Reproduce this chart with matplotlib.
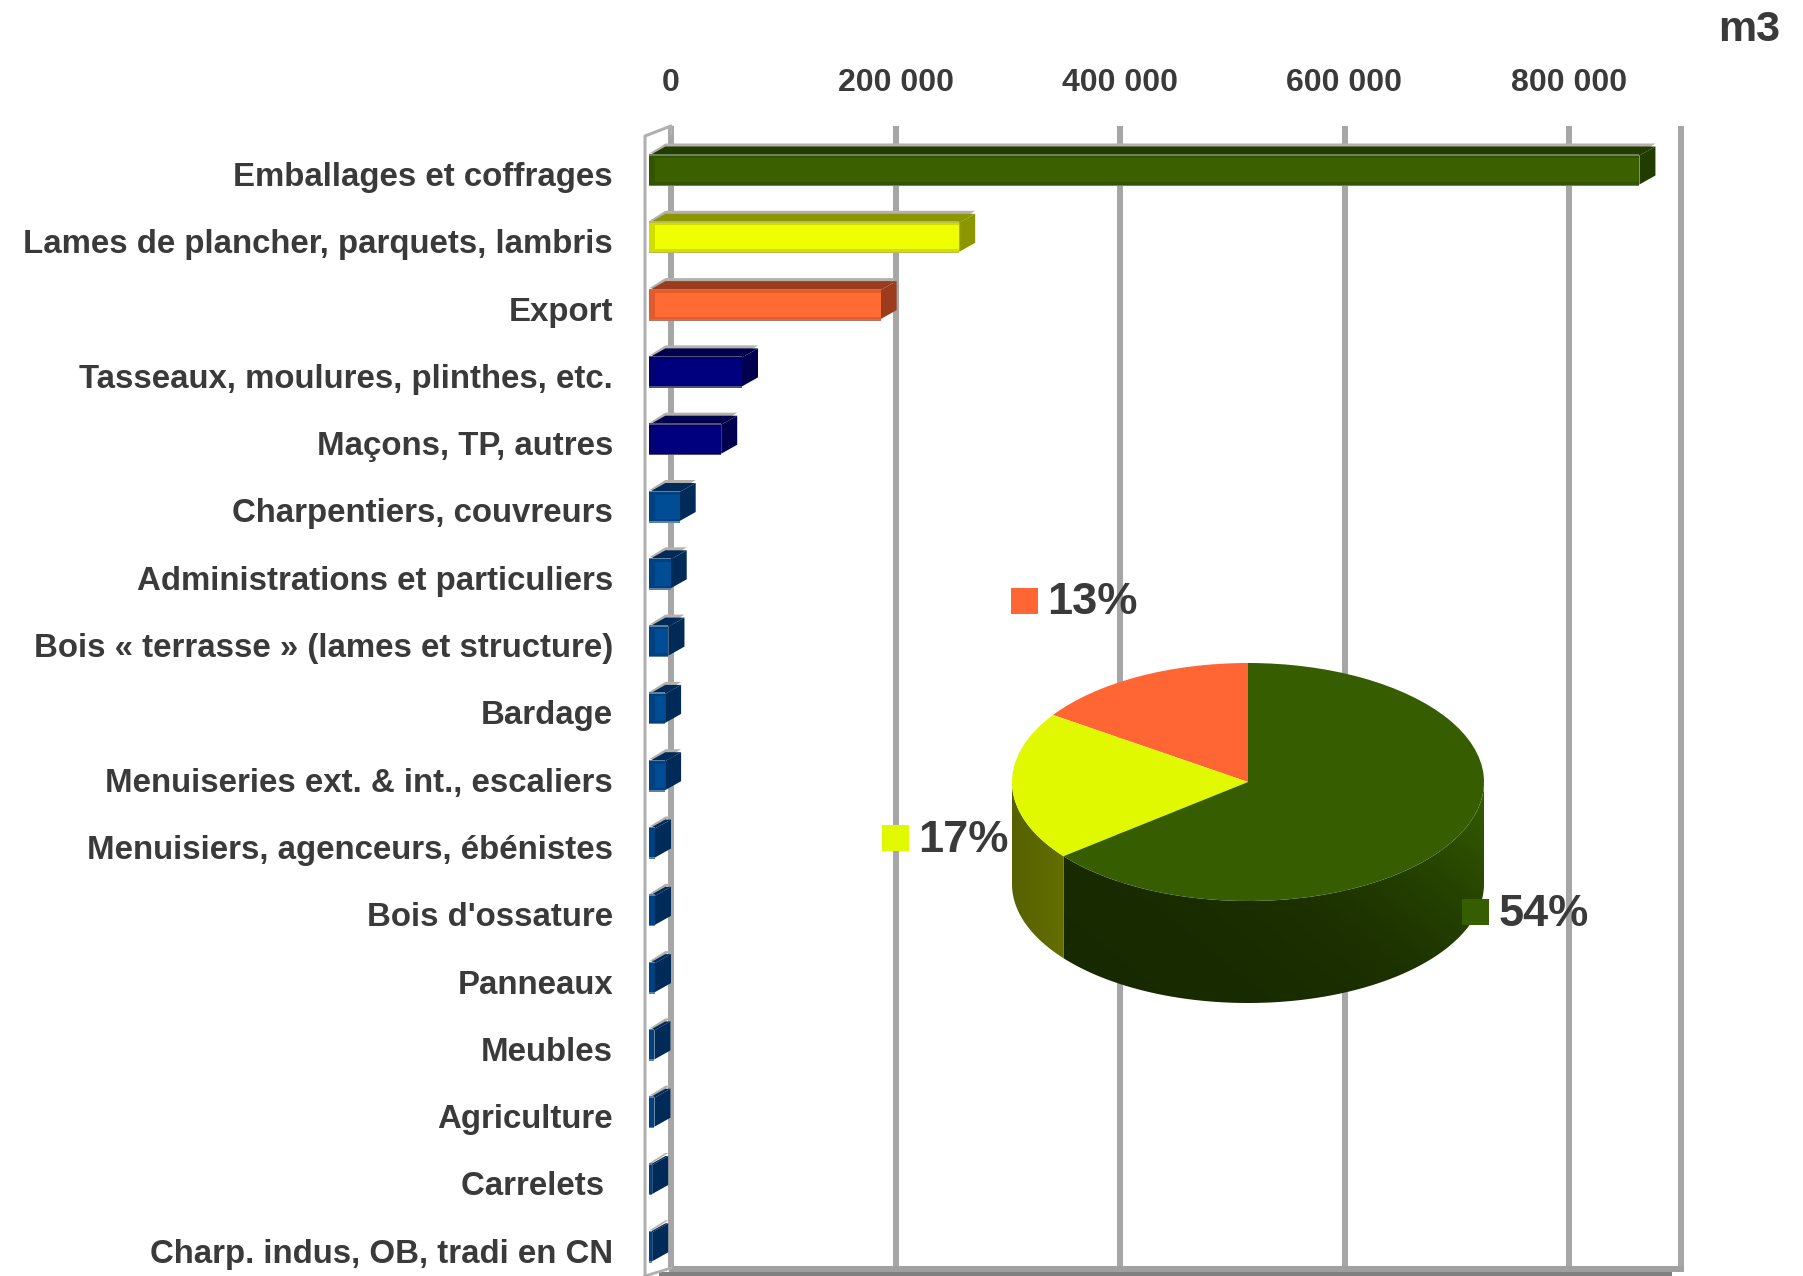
import matplotlib
matplotlib.use('Agg')
import matplotlib.pyplot as plt
from matplotlib.colors import LinearSegmentedColormap
from matplotlib.patches import Polygon, Rectangle
import numpy as np

plt.rcParams['font.family'] = ['Liberation Sans', 'DejaVu Sans']

categories = ['Emballages et coffrages', 'Lames de plancher, parquets, lambris', 'Export',
              'Tasseaux, moulures, plinthes, etc.', 'Maçons, TP, autres', 'Charpentiers, couvreurs',
              'Administrations et particuliers', 'Bois « terrasse » (lames et structure)', 'Bardage',
              'Menuiseries ext. & int., escaliers', 'Menuisiers, agenceurs, ébénistes', "Bois d'ossature",
              'Panneaux', 'Meubles', 'Agriculture', 'Carrelets ', 'Charp. indus, OB, tradi en CN']
volumes = [882000, 276000, 206000, 82500, 64000, 27000, 19000, 17000, 14000, 14000,
           5000, 5000, 5000, 4500, 4500, 2500, 2500]
ticks = [0, 200000, 400000, 600000, 800000]
tick_labels = ['0', '200 000', '400 000', '600 000', '800 000']

pie_labels = ['13%', '17%', '54%']
pie_values = [13, 17, 54]

# front, top/side, edge
GREEN = ('#3a6000', '#223c00', '#6f8060')
YELLOW = ('#f0ff00', '#8c9600', '#b8bc50')
ORANGE = ('#ff6b33', '#9c3c1e', '#b07868')
NAVY = ('#00007f', '#00004f', '#505080')
BLUE = ('#004c95', '#002a58', '#6080a0')
bar_styles = [GREEN, YELLOW, ORANGE, NAVY, NAVY] + [BLUE] * 12

W, H = 1803, 1276
PX_PER_UNIT = 224.5 / 200000
ZERO_X = 671
ROW0_Y, ROW_H = 174, 67.3
TEXT = '#3a3a3a'
GRID = '#a6a6a6'


def fig_rect(left, top, right, bottom):
    return [left / W, 1 - bottom / H, (right - left) / W, (bottom - top) / H]


fig = plt.figure(figsize=(W / 100, H / 100), dpi=100)
left_px, right_px, top_px, bottom_px = 640, 1700, 120, 1276
ax = fig.add_axes(fig_rect(left_px, top_px, right_px, bottom_px))
ax.set_xlim((left_px - ZERO_X) / PX_PER_UNIT, (right_px - ZERO_X) / PX_PER_UNIT)
ax.set_ylim((bottom_px - ROW0_Y) / ROW_H, (top_px - ROW0_Y) / ROW_H)
for s in ax.spines.values():
    s.set_visible(False)

rows = np.arange(len(categories))
ax.set_yticks(rows, categories)
ax.set_xticks(ticks, tick_labels)
ax.tick_params(axis='y', length=0, pad=19.4, labelsize=23.8, labelcolor=TEXT)
ax.tick_params(axis='x', length=0, pad=15.5, labelsize=23, labelcolor=TEXT,
               top=True, labeltop=True, bottom=False, labelbottom=False)
for lab in ax.get_yticklabels() + ax.get_xticklabels():
    lab.set_fontweight('bold')

px_x = 1 / PX_PER_UNIT
px_y = 1 / ROW_H
grid_top = (126 - ROW0_Y) * px_y
grid_bot = (1269 - ROW0_Y) * px_y
wall = 900000
ax.vlines(ticks + [wall], grid_top, grid_bot, color=GRID, lw=4.3, zorder=1)
# left side of the 3D box and the floor
ax.plot([-26 * px_x, -26 * px_x, 0, 0], [(1276 - ROW0_Y) * px_y, (136 - ROW0_Y) * px_y, grid_top, grid_top + 8 * px_y],
        color='#b0b0b0', lw=2.2, zorder=1)
ax.hlines((1269 - ROW0_Y) * px_y, -2 * px_x, wall + 3 * px_x, color='#a0a0a0', lw=4.3, zorder=1)
ax.hlines((1274 - ROW0_Y) * px_y, -12 * px_x, wall - 9 * px_x, color='#808080', lw=3, zorder=1)
ax.plot([-26 * px_x, 0], [(1276 - ROW0_Y) * px_y, (1268 - ROW0_Y) * px_y], color='#b0b0b0', lw=2, zorder=1)

# 3D bars: the front face is shifted down and left from the value position
depth_x, depth_y = 16 * px_x, 9 * px_y
axis_start = -5000
front_h = 29 * px_y
for r, v, st in zip(rows, volumes, bar_styles):
    x0 = axis_start - depth_x
    x1 = axis_start + v - depth_x
    yc = r - 4 * px_y
    y0, y1 = yc - front_h / 2, yc + front_h / 2
    # grey halo of the back edge
    ax.fill([x0, x0 + depth_x, x1 + depth_x, x1], [y0 - 2 * px_y, y0 - depth_y - 3 * px_y, y0 - depth_y - 3 * px_y, y0 - 2 * px_y],
            color='#b4b0ac', lw=0, zorder=3)
    # top and side faces
    ax.fill([x0, x0 + depth_x, x1 + depth_x, x1], [y0, y0 - depth_y, y0 - depth_y, y0], color=st[1], lw=0, zorder=4)
    ax.fill([x1, x1 + depth_x, x1 + depth_x, x1], [y0, y0 - depth_y, y1 - depth_y, y1], color=st[1], lw=0, zorder=4)
    # front face with its edge
    ax.barh(yc, v, left=x0, height=front_h + 3 * px_y, color=st[2], lw=0, zorder=5)
    ax.barh(yc, v, left=x0, height=front_h, color=st[0], lw=0, zorder=6)
    ax.barh(yc, v, left=x0, height=front_h, color=st[1], lw=0, zorder=6.5, alpha=0.3)
    inner = max(v - 6 * px_x, 0)
    ax.barh(yc, inner, left=x0 + 6 * px_x, height=front_h - 5 * px_y, color=st[0], lw=0, zorder=7)

# pie, drawn in an axes of its own so that it can be flattened into an ellipse
cx, cy, rx, ry, depth = 1248, 782, 236, 119, 102
pax = fig.add_axes(fig_rect(cx - rx, cy - ry, cx + rx, cy + ry + depth), zorder=10)
pie_colors = ['#ff6633', '#e0f800', '#365e00']
pax.pie(pie_values, colors=pie_colors, startangle=90, radius=1,
        wedgeprops={'lw': 0})
pax.set_aspect('auto')
low = -1 - depth / ry
pax.patch.set_alpha(0)

angle_yg = 90 + 360 * (pie_values[0] + pie_values[1]) / sum(pie_values)


def wall_poly(a0, a1):
    t = np.radians(np.linspace(a0, a1, 120))
    xs, ys = np.cos(t), np.sin(t)
    drop = depth / ry
    return np.r_[np.c_[xs, ys], np.c_[xs[::-1], ys[::-1] - drop]]


green_side = LinearSegmentedColormap.from_list('gs', ['#172900', '#1c3000', '#264400', '#335a00'])
gx, gy = np.meshgrid(np.linspace(0, 1, 200), np.linspace(0, 1, 200))
green_grad = np.clip((gx * 0.85 + gy * 0.75) ** 2 * 0.6, 0, 1)
poly = Polygon(wall_poly(angle_yg, 360), closed=True, transform=pax.transData, lw=0, fc='none')
pax.add_patch(poly)
img = pax.imshow(green_grad, cmap=green_side, vmin=0, vmax=1, extent=(-1, 1, low, 1),
                 origin='lower', aspect='auto', zorder=0.5)
img.set_clip_path(poly)
yellow_side = LinearSegmentedColormap.from_list('ys', ['#566200', '#5f6a00', '#6a7800'])
poly2 = Polygon(wall_poly(180, angle_yg), closed=True, transform=pax.transData, lw=0, fc='none')
pax.add_patch(poly2)
img2 = pax.imshow(gx[:10, :], cmap=yellow_side, extent=(-1, -0.7, low, 1), origin='lower', aspect='auto', zorder=0.5)
img2.set_clip_path(poly2)
pax.set_xlim(-1, 1)
pax.set_ylim(low, 1)

# pie legend keys next to their percentages
key_pos = [(1011, 588), (882, 825), (1462, 899)]
text_pos = [1047, 918, 1499]
for (kx, ky), tx, c, lab in zip(key_pos, text_pos, pie_colors, pie_labels):
    fig.add_artist(Rectangle((kx / W, 1 - (ky + 26) / H), 27 / W, 26 / H, transform=fig.transFigure,
                             fc=c, lw=0, zorder=12))
    fig.text(tx / W, 1 - (ky + 15) / H, lab, fontsize=32.5, fontweight='bold', color=TEXT,
             ha='left', va='center', zorder=12)

fig.text(1780 / W, 1 - 30 / H, 'm3', fontsize=31, fontweight='bold', color=TEXT, ha='right', va='center')

fig.savefig('out.png', dpi=100)
